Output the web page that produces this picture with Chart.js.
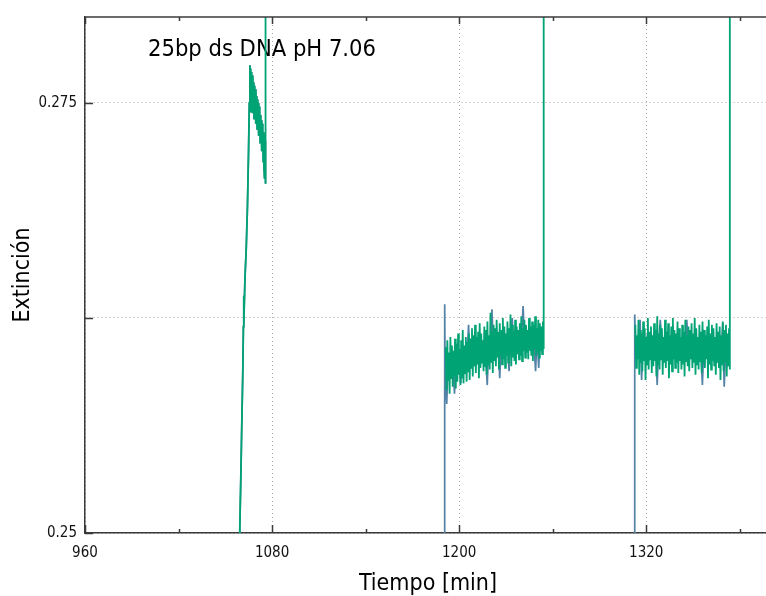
<!DOCTYPE html>
<html>
<head>
<meta charset="utf-8">
<script src="https://cdn.jsdelivr.net/npm/chart.js@4/dist/chart.umd.min.js"></script>
<style>
  html, body { margin: 0; padding: 0; background: #fff; overflow: hidden; }
  canvas { display: block; }
</style>
</head>
<body>
<canvas id="c" width="771" height="596"></canvas>
<script>
// ---------- tick / axis values ----------
const xMajorTicks = [960, 1080, 1200, 1320];
const xMinorTicks = [1020, 1140, 1260, 1380];
const yTicks = [0.25, 0.2625, 0.275];
const yTickLabels = ['0.25', '', '0.275'];
const chartTitle = '25bp ds DNA pH 7.06';

// ---------- segment 1: rise + first plateau (both channels) ----------
const riseTimes  = [1058.9, 1059.3, 1059.9, 1060.5, 1061.2, 1061.6, 1061.8, 1061.9, 1062.6, 1063.4, 1064.2, 1064.9, 1065.4, 1065.8];
const riseValues = [0.2485, 0.2503, 0.2530, 0.2560, 0.2593, 0.2620, 0.2638, 0.2622, 0.2648, 0.2665, 0.2690, 0.2722, 0.2750, 0.2772];
const streakTimeSpan = [1066.0, 1075.8];
const streakValues = [
  0.2748, 0.2770, 0.2745, 0.2768, 0.2750, 0.2766, 0.2744, 0.2765, 0.2747, 0.2762,
  0.2741, 0.2760, 0.2745, 0.2758, 0.2738, 0.2757, 0.2742, 0.2754, 0.2735, 0.2752,
  0.2739, 0.2750, 0.2731, 0.2748, 0.2735, 0.2745, 0.2727, 0.2743, 0.2730, 0.2740,
  0.2722, 0.2738, 0.2726, 0.2735, 0.2716, 0.2733, 0.2712, 0.2731, 0.2706, 0.2728, 0.2703
];

// ---------- segment 2 ----------
const seg2GreenSpan = [1191.4, 1254.2];
const seg2Green = [
  0.2608,0.2583, 0.2612,0.2589, 0.2605,0.2581, 0.2614,0.2590, 0.2609,0.2585,
  0.2606,0.2591, 0.2613,0.2584, 0.2610,0.2588, 0.2616,0.2592, 0.2607,0.2586,
  0.2612,0.2590, 0.2618,0.2587, 0.2609,0.2593, 0.2614,0.2588, 0.2611,0.2594, 0.2616,0.2589,
  0.2613,0.2596, 0.2619,0.2591, 0.2615,0.2597, 0.2621,0.2593, 0.2614,0.2598,
  0.2617,0.2590, 0.2622,0.2596, 0.2616,0.2599, 0.2612,0.2594, 0.2620,0.2597,
  0.2618,0.2592, 0.2623,0.2598, 0.2615,0.2595, 0.2628,0.2599, 0.2617,0.2593, 0.2621,0.2600,
  0.2619,0.2597, 0.2624,0.2602, 0.2617,0.2595, 0.2622,0.2603, 0.2618,0.2598,
  0.2625,0.2601, 0.2620,0.2596, 0.2616,0.2603, 0.2623,0.2599, 0.2619,0.2604,
  0.2627,0.2597, 0.2621,0.2602, 0.2617,0.2600, 0.2624,0.2598, 0.2620,0.2604, 0.2618,0.2601,
  0.2622,0.2603, 0.2626,0.2600, 0.2619,0.2606, 0.2624,0.2602, 0.2621,0.2605,
  0.2618,0.2601, 0.2625,0.2606, 0.2620,0.2603, 0.2623,0.2600, 0.2621,0.2607,
  0.2626,0.2603, 0.2619,0.2605, 0.2624,0.2602, 0.2622,0.2606, 0.2620,0.2604, 0.2623,0.2607
];
const seg2BlueLeadTime = 1190.7;
const seg2BlueLead = [0.2470, 0.2633];
const seg2BlueSpan = [1191.0, 1254.0];
const seg2Blue = [
  0.2592, 0.2575, 0.2600, 0.2594, 0.2601, 0.2596, 0.2581, 0.2603, 0.2597, 0.2604,
  0.2587, 0.2605, 0.2599, 0.2606, 0.2601, 0.2621, 0.2600, 0.2607, 0.2602, 0.2608,
  0.2601, 0.2609, 0.2603, 0.2610, 0.2604, 0.2609, 0.2603, 0.2586, 0.2610, 0.2605,
  0.2630, 0.2606, 0.2611, 0.2605, 0.2612, 0.2590, 0.2611, 0.2606, 0.2613, 0.2607,
  0.2612, 0.2594, 0.2613, 0.2625, 0.2607, 0.2614, 0.2608, 0.2613, 0.2609, 0.2615,
  0.2632, 0.2609, 0.2614, 0.2610, 0.2615, 0.2609, 0.2616, 0.2610, 0.2594, 0.2615,
  0.2596, 0.2614, 0.2611, 0.2615
];

// ---------- segment 3 ----------
const seg3GreenSpan = [1313.0, 1373.6];
const seg3Green = [
  0.2621,0.2596, 0.2615,0.2601, 0.2624,0.2592, 0.2618,0.2599, 0.2616,0.2594,
  0.2623,0.2600, 0.2619,0.2589, 0.2614,0.2598, 0.2625,0.2595, 0.2617,0.2601,
  0.2620,0.2593, 0.2615,0.2597, 0.2622,0.2600, 0.2618,0.2591, 0.2626,0.2598,
  0.2616,0.2595, 0.2621,0.2601, 0.2619,0.2592, 0.2614,0.2599, 0.2624,0.2596,
  0.2617,0.2600, 0.2622,0.2590, 0.2615,0.2598, 0.2620,0.2594, 0.2625,0.2601,
  0.2618,0.2596, 0.2616,0.2599, 0.2623,0.2593, 0.2619,0.2600, 0.2614,0.2595,
  0.2621,0.2598, 0.2617,0.2591, 0.2624,0.2600, 0.2615,0.2597, 0.2620,0.2594,
  0.2618,0.2601, 0.2622,0.2596, 0.2616,0.2599, 0.2625,0.2592, 0.2619,0.2598,
  0.2614,0.2595, 0.2621,0.2600, 0.2617,0.2593, 0.2623,0.2599, 0.2618,0.2596,
  0.2615,0.2601, 0.2620,0.2590, 0.2624,0.2598, 0.2616,0.2595, 0.2621,0.2600,
  0.2619,0.2597, 0.2614,0.2592, 0.2622,0.2599, 0.2617,0.2596, 0.2620,0.2589,
  0.2615,0.2598, 0.2623,0.2594, 0.2618,0.2600, 0.2621,0.2591, 0.2616,0.2597,
  0.2619,0.2595
];
const seg3BlueLeadTime = 1312.6;
const seg3BlueLead = [0.2470, 0.2627];
const seg3BlueSpan = [1313.0, 1373.0];
const seg3Blue = [
  0.2610, 0.2604, 0.2611, 0.2624, 0.2589, 0.2611, 0.2605, 0.2612, 0.2604, 0.2610,
  0.2606, 0.2612, 0.2605, 0.2610, 0.2586, 0.2611, 0.2624, 0.2604, 0.2611, 0.2606,
  0.2612, 0.2605, 0.2610, 0.2604, 0.2611, 0.2606, 0.2612, 0.2605, 0.2610, 0.2604,
  0.2611, 0.2606, 0.2612, 0.2624, 0.2605, 0.2611, 0.2604, 0.2610, 0.2606, 0.2612,
  0.2605, 0.2611, 0.2606, 0.2586, 0.2611, 0.2605, 0.2612, 0.2604, 0.2610, 0.2606,
  0.2611, 0.2605, 0.2612, 0.2604, 0.2610, 0.2606, 0.2622, 0.2585, 0.2609, 0.2603,
  0.2607
];

// green channel jumps off-scale at the end of each run
const greenExitTimes = [1075.8, 1254.2, 1373.6];
const greenExitValue = 0.30;

// ---------- build point lists ----------
function spread(span, vals) {
  const n = vals.length;
  return vals.map((v, i) => ({ x: span[0] + (span[1] - span[0]) * i / (n - 1), y: v }));
}
function zip(ts, vs) { return ts.map((t, i) => ({ x: t, y: vs[i] })); }
function lead(t, vs) { return vs.map(v => ({ x: t, y: v })); }
const gap = t => ({ x: t, y: null });

const seg1 = [...zip(riseTimes, riseValues), ...spread(streakTimeSpan, streakValues)];

const greenData = [
  ...seg1, { x: greenExitTimes[0], y: greenExitValue }, gap(1100),
  ...spread(seg2GreenSpan, seg2Green), { x: greenExitTimes[1], y: greenExitValue }, gap(1280),
  ...spread(seg3GreenSpan, seg3Green), { x: greenExitTimes[2], y: greenExitValue }
];
const blueData = [
  ...seg1, gap(1100),
  ...lead(seg2BlueLeadTime, seg2BlueLead), ...spread(seg2BlueSpan, seg2Blue), gap(1280),
  ...lead(seg3BlueLeadTime, seg3BlueLead), ...spread(seg3BlueSpan, seg3Blue)
];

// ---------- plugins ----------
const FONT = '"DejaVu Sans Condensed", "DejaVu Sans", sans-serif';

const titlePlugin = {
  id: 'innerTitle',
  beforeDatasetsDraw(chart) {
    const { ctx } = chart;
    ctx.save();
    ctx.font = '23.5px ' + FONT;
    ctx.fillStyle = '#000';
    ctx.textBaseline = 'alphabetic';
    ctx.textAlign = 'left';
    ctx.fillText(chartTitle, 148, 56);
    ctx.restore();
  }
};

const framePlugin = {
  id: 'frame',
  afterDraw(chart) {
    const { ctx, chartArea: a, scales: { x, y } } = chart;
    ctx.save();
    ctx.strokeStyle = '#3a3a3a';
    ctx.lineWidth = 1.5;
    ctx.beginPath();
    ctx.moveTo(a.left, a.top);
    ctx.lineTo(a.right, a.top);
    ctx.stroke();
    ctx.beginPath();
    xMajorTicks.forEach(v => {
      const px = Math.round(x.getPixelForValue(v)) + 0.5;
      ctx.moveTo(px, a.bottom); ctx.lineTo(px, a.bottom - 8);
      ctx.moveTo(px, a.top); ctx.lineTo(px, a.top + 7);
    });
    xMinorTicks.forEach(v => {
      const px = Math.round(x.getPixelForValue(v)) + 0.5;
      ctx.moveTo(px, a.bottom); ctx.lineTo(px, a.bottom - 4);
      ctx.moveTo(px, a.top); ctx.lineTo(px, a.top + 4);
    });
    yTicks.forEach(v => {
      const py = Math.round(y.getPixelForValue(v)) + 0.5;
      ctx.moveTo(a.left, py); ctx.lineTo(a.left + 8, py);
    });
    ctx.stroke();
    ctx.restore();
  }
};

// ---------- chart ----------
new Chart(document.getElementById('c'), {
  type: 'line',
  data: {
    datasets: [
      { label: 'green', data: greenData, borderColor: '#00a374', borderWidth: 1.8, spanGaps: false },
      { label: 'blue', data: blueData, borderColor: '#5282a6', borderWidth: 1.7, spanGaps: false }
    ]
  },
  options: {
    responsive: false,
    animation: false,
    devicePixelRatio: 1,
    layout: { padding: { top: 13, left: 0, right: 0, bottom: 0 } },
    elements: { point: { radius: 0, hoverRadius: 0 }, line: { tension: 0 } },
    plugins: { legend: { display: false }, tooltip: { enabled: false }, title: { display: false } },
    scales: {
      x: {
        type: 'linear',
        min: 960, max: 1400,
        afterBuildTicks: s => { s.ticks = xMajorTicks.map(v => ({ value: v })); },
        afterFit: s => { s.height = 63; },
        ticks: { font: { family: FONT, size: 15 }, color: '#111', padding: 11, maxRotation: 0, autoSkip: false,
                 callback: v => String(v) },
        grid: { color: '#a8a8a8', lineWidth: 1, drawTicks: false },
        border: { color: '#3a3a3a', width: 1.5, dash: [1, 3] },
        title: { display: true, text: 'Tiempo [min]', font: { family: FONT, size: 23 }, color: '#000', padding: { top: 0, bottom: -2 } }
      },
      y: {
        type: 'linear',
        min: 0.25, max: 0.28,
        afterBuildTicks: s => { s.ticks = yTicks.map(v => ({ value: v })); },
        afterFit: s => { s.width = 85; },
        ticks: { font: { family: FONT, size: 15 }, color: '#111', padding: 8, autoSkip: false,
                 callback: (v, i) => yTickLabels[i] },
        grid: { color: '#a8a8a8', lineWidth: 1, drawTicks: false },
        border: { color: '#3a3a3a', width: 1.5, dash: [1, 3] },
        title: { display: true, text: 'Extinción', font: { family: FONT, size: 23 }, color: '#000', padding: { top: 9, bottom: 0 } }
      }
    }
  },
  plugins: [titlePlugin, framePlugin]
});
</script>
</body>
</html>
